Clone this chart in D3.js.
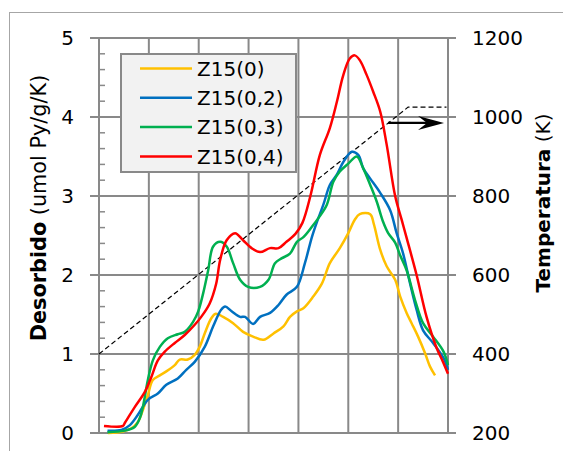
<!DOCTYPE html>
<html>
<head>
<meta charset="utf-8">
<script src="https://cdn.jsdelivr.net/npm/d3@7"></script>
<style>
  body { margin: 0; background: #fff; }
  text { font-family: "DejaVu Sans", sans-serif; fill: #000; }
</style>
</head>
<body>
<svg width="563" height="451"></svg>
<script>
// series values (x = time in min, y = desorbed)
let x0 = [1.8, 4.8, 6.5, 7.8, 8.8, 9.8, 10.8, 12.2, 13.5, 15.2, 16.2, 17.8, 19.2, 20.2, 21.2, 22.5, 23.4, 24.9, 26.9, 28.9, 30.9, 33.0, 35.0, 37.0, 38.3, 39.7, 41.0, 43.0, 44.7, 46.3, 48.3, 50.0, 51.3, 52.3, 54.4, 55.1, 56.4, 57.7, 59.4, 60.4, 61.7, 62.7, 64.0, 65.4, 66.4, 67.4];
let y0 = [0.00, 0.02, 0.06, 0.14, 0.29, 0.48, 0.67, 0.73, 0.78, 0.86, 0.93, 0.93, 0.99, 1.09, 1.26, 1.45, 1.51, 1.47, 1.39, 1.28, 1.22, 1.18, 1.26, 1.35, 1.47, 1.54, 1.58, 1.73, 1.89, 2.15, 2.34, 2.53, 2.70, 2.77, 2.77, 2.65, 2.32, 2.11, 1.94, 1.73, 1.52, 1.39, 1.22, 1.01, 0.84, 0.73];

let x02 = [1.7, 4.5, 6.2, 7.8, 9.8, 11.8, 13.5, 15.8, 17.5, 19.2, 21.2, 22.9, 24.5, 25.3, 26.6, 28.3, 29.3, 30.9, 32.3, 34.3, 36.0, 37.6, 39.7, 41.3, 42.7, 43.7, 45.0, 46.3, 47.7, 49.0, 50.7, 52.0, 53.0, 54.4, 56.4, 58.4, 59.7, 61.0, 62.4, 63.7, 65.0, 67.0, 69.1, 70.0];
let y02 = [0.03, 0.04, 0.10, 0.23, 0.42, 0.50, 0.61, 0.69, 0.80, 0.90, 1.09, 1.35, 1.56, 1.60, 1.54, 1.47, 1.47, 1.38, 1.47, 1.52, 1.62, 1.75, 1.85, 2.15, 2.48, 2.67, 2.89, 3.14, 3.27, 3.43, 3.56, 3.52, 3.35, 3.22, 3.04, 2.82, 2.53, 2.27, 1.89, 1.56, 1.30, 1.14, 0.95, 0.80];

let x03 = [1.7, 5.2, 7.2, 8.2, 8.8, 9.8, 10.8, 12.2, 13.8, 15.8, 17.2, 18.9, 19.9, 20.9, 21.9, 22.9, 24.3, 25.6, 26.9, 28.3, 29.9, 32.3, 34.0, 35.3, 36.6, 38.3, 39.7, 41.0, 42.7, 44.0, 45.7, 47.0, 48.3, 50.0, 51.7, 53.0, 54.4, 55.7, 57.0, 58.0, 59.4, 60.4, 61.7, 63.4, 65.0, 67.0, 69.1, 70.0];
let y03 = [0.01, 0.03, 0.08, 0.19, 0.33, 0.67, 0.92, 1.09, 1.20, 1.25, 1.28, 1.41, 1.54, 1.77, 2.06, 2.36, 2.42, 2.36, 2.15, 1.94, 1.85, 1.85, 1.94, 2.15, 2.21, 2.27, 2.42, 2.48, 2.61, 2.72, 2.89, 3.18, 3.31, 3.41, 3.50, 3.35, 3.14, 2.93, 2.67, 2.53, 2.41, 2.25, 2.06, 1.68, 1.39, 1.22, 1.03, 0.86];

let x04 = [1.0, 4.8, 5.2, 7.2, 9.2, 10.5, 11.8, 13.2, 15.2, 17.2, 19.2, 20.5, 22.2, 23.5, 24.3, 25.6, 27.3, 28.9, 30.6, 32.3, 34.3, 36.0, 37.6, 39.4, 40.8, 42.4, 44.3, 46.3, 47.7, 49.0, 50.3, 51.3, 52.3, 53.7, 55.0, 56.4, 57.7, 59.4, 60.7, 61.7, 63.7, 65.7, 67.7, 69.0, 70.0];
let y04 = [0.09, 0.09, 0.13, 0.33, 0.52, 0.71, 0.92, 1.03, 1.14, 1.24, 1.37, 1.47, 1.64, 1.89, 2.19, 2.44, 2.53, 2.44, 2.34, 2.29, 2.34, 2.34, 2.42, 2.52, 2.66, 3.00, 3.52, 3.86, 4.19, 4.53, 4.74, 4.78, 4.72, 4.53, 4.32, 4.07, 3.65, 3.00, 2.70, 2.47, 2.00, 1.47, 1.08, 0.90, 0.75];

let seriesNames  = ["Z15(0)", "Z15(0,2)", "Z15(0,3)", "Z15(0,4)"];
let seriesColors = ["#FFC000", "#0070C0", "#00B050", "#FF0000"];

// temperature ramp (right axis) and the arrow pointing at it
let tempX = [0, 62, 69.7];
let tempK = [400, 1025, 1025];
let arrowX = [58, 69.2];
let arrowK = 985;

let leftTicks  = [0, 1, 2, 3, 4, 5];
let rightTicks = [200, 400, 600, 800, 1000, 1200];
let xGrid      = [0, 10, 20, 30, 40, 50, 60, 70];

let LEFT = 99, RIGHT = 448, TOP = 38, BOTTOM = 433;
let GRID = "#898989";

let svg = d3.select("svg");

let x  = d3.scaleLinear().domain([0, 70]).range([LEFT, RIGHT]);
let y  = d3.scaleLinear().domain([0, 5]).range([BOTTOM, TOP]);
let yT = d3.scaleLinear().domain([200, 1200]).range([BOTTOM, TOP]);

// chart frame
svg.append("rect")
   .attr("x", 9.5).attr("y", 12.5)
   .attr("width", 600).attr("height", 500)
   .attr("fill", "#fff")
   .attr("stroke", "#a6a6a6")
   .attr("stroke-width", 1);

// vertical grid
svg.append("g").selectAll("line")
   .data(xGrid)
   .enter().append("line")
   .attr("x1", d => x(d)).attr("x2", d => x(d))
   .attr("y1", TOP).attr("y2", BOTTOM)
   .attr("stroke", GRID).attr("stroke-width", 2);

// horizontal grid with major ticks on both sides
svg.append("g").selectAll("line")
   .data(leftTicks)
   .enter().append("line")
   .attr("x1", LEFT - 9).attr("x2", RIGHT + 8)
   .attr("y1", d => y(d)).attr("y2", d => y(d))
   .attr("stroke", GRID).attr("stroke-width", 2);

// minor ticks on left axis
let minor = d3.range(0, 5.01, 0.2).filter(d => Math.abs(d - Math.round(d)) > 0.01);
svg.append("g").selectAll("line")
   .data(minor)
   .enter().append("line")
   .attr("x1", LEFT).attr("x2", LEFT + 6)
   .attr("y1", d => y(d)).attr("y2", d => y(d))
   .attr("stroke", GRID).attr("stroke-width", 1.5);

// left axis labels
svg.append("g").selectAll("text")
   .data(leftTicks)
   .enter().append("text")
   .attr("x", 74).attr("y", d => y(d))
   .attr("dy", "0.36em")
   .attr("text-anchor", "end")
   .attr("font-size", 20)
   .text(d => d);

// right axis labels
svg.append("g").selectAll("text")
   .data(rightTicks)
   .enter().append("text")
   .attr("x", 472).attr("y", d => yT(d))
   .attr("dy", "0.36em")
   .attr("font-size", 20)
   .text(d => d);

// axis titles
let lt = svg.append("text")
   .attr("transform", "translate(46,208) rotate(-90)")
   .attr("text-anchor", "middle")
   .attr("font-size", 20.8);
lt.append("tspan").attr("font-weight", "bold").text("Desorbido");
lt.append("tspan").text(" (umol Py/g/K)");

let rt = svg.append("text")
   .attr("transform", "translate(550,203) rotate(-90)")
   .attr("text-anchor", "middle")
   .attr("font-size", 20);
rt.append("tspan").attr("font-weight", "bold").text("Temperatura");
rt.append("tspan").text(" (K)");

// temperature ramp
let tLine = d3.line().x(d => x(d[0])).y(d => yT(d[1]));
svg.append("path")
   .attr("d", tLine(d3.zip(tempX, tempK)))
   .attr("fill", "none")
   .attr("stroke", "#000")
   .attr("stroke-width", 1.2)
   .attr("stroke-dasharray", "5,3");

// series
let xs = [x0, x02, x03, x04];
let ys = [y0, y02, y03, y04];
let line = d3.line()
             .x(d => x(d[0]))
             .y(d => y(d[1]))
             .curve(d3.curveCatmullRom.alpha(0.5));

svg.append("g").selectAll("path")
   .data(seriesNames.map((n, i) => d3.zip(xs[i], ys[i])))
   .enter().append("path")
   .attr("d", line)
   .attr("fill", "none")
   .attr("stroke", (d, i) => seriesColors[i])
   .attr("stroke-width", 2.5)
   .attr("stroke-linejoin", "round");

// arrow towards right axis
let ax1 = x(arrowX[0]), ax2 = x(arrowX[1]), ay = yT(arrowK);
svg.append("line")
   .attr("x1", ax1).attr("x2", ax2 - 12)
   .attr("y1", ay).attr("y2", ay)
   .attr("stroke", "#000").attr("stroke-width", 2.2);
svg.append("path")
   .attr("d", "M" + ax2 + "," + ay +
              " L" + (ax2 - 26) + "," + (ay - 7) +
              " L" + (ax2 - 17) + "," + ay +
              " L" + (ax2 - 26) + "," + (ay + 7) + " Z")
   .attr("fill", "#000");

// legend
let lg = svg.append("g");
lg.append("rect")
  .attr("x", 121).attr("y", 54)
  .attr("width", 175).attr("height", 118)
  .attr("fill", "#f2f2f2")
  .attr("stroke", GRID).attr("stroke-width", 2);

let row = lg.selectAll("g")
            .data(seriesNames)
            .enter().append("g")
            .attr("transform", (d, i) => "translate(0," + (68.5 + i * 29.3) + ")");
row.append("line")
   .attr("x1", 140).attr("x2", 192)
   .attr("stroke", (d, i) => seriesColors[i])
   .attr("stroke-width", 2.5);
row.append("text")
   .attr("x", 197).attr("dy", "0.36em")
   .attr("font-size", 20)
   .text(d => d);
</script>
</body>
</html>
